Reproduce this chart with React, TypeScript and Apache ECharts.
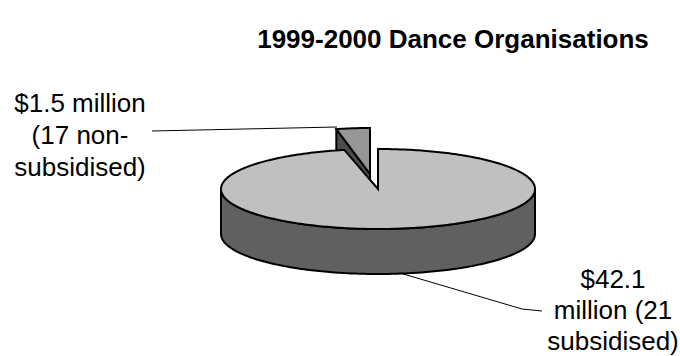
import React, { useEffect, useRef } from 'react';
import * as echarts from 'echarts';

const titleText = '1999-2000 Dance Organisations';
const categories = ['subsidised', 'non-subsidised'];
const revenueMillions = [42.1, 1.5];
const organisationCounts = [21, 17];
const labelTexts = ['$42.1\nmillion (21\nsubsidised)', '$1.5 million\n(17 non-\nsubsidised)'];

const topColors = ['#c0c0c0', '#969696'];
const sideColors = ['#606060', '#4d4d4d'];

const CX = 378;
const CY = 189;
const RX = 157;
const RY = 40;
const DEPTH = 45;
const EXPLODED = [false, true];
const EX_DX = -8;
const EX_DY = -15;
const EX_RY = 46;
const FONT = "'Liberation Sans', Arial, sans-serif";

export default function App() {
  const ref = useRef<HTMLDivElement>(null);
  useEffect(() => {
    document.body.style.margin = '0';
    const chart = echarts.init(ref.current!, null, { renderer: 'svg' });
    const total = revenueMillions.reduce((a, b) => a + b, 0);
    const option: any = {
      animation: false,
      backgroundColor: '#ffffff',
      title: {
        text: titleText,
        left: 448,
        top: 21,
        textAlign: 'center',
        textStyle: { fontSize: 26, fontWeight: 'bold', fontFamily: FONT, color: '#000' },
      },
      series: [
        {
          type: 'custom',
          coordinateSystem: 'none',
          data: revenueMillions.map((v, i) => ({ value: v, name: categories[i], count: organisationCounts[i] })),
          renderItem: (params: any, api: any) => {
            const i = params.dataIndex;
            let start = 0;
            for (let k = 0; k < i; k++) start += (revenueMillions[k] / total) * 360;
            const end = start + (api.value(0) / total) * 360;
            const ex = EXPLODED[i];
            const cx = CX + (ex ? EX_DX : 0);
            const cy = CY + (ex ? EX_DY : 0);
            const ry = ex ? EX_RY : RY;
            const pt = (deg: number, dy = 0) => {
              const r = (deg * Math.PI) / 180;
              return [cx + RX * Math.sin(r), cy - ry * Math.cos(r) + dy];
            };
            const arc = (a0: number, a1: number, dy = 0) => {
              const n = Math.max(2, Math.ceil(Math.abs(a1 - a0)));
              const pts: number[][] = [];
              for (let j = 0; j <= n; j++) pts.push(pt(a0 + ((a1 - a0) * j) / n, dy));
              return pts;
            };
            const base = ex ? 0 : 10;
            const children: any[] = [];
            const lw = 2;
            const s0 = Math.max(start, 90);
            const s1 = Math.min(end, 270);
            if (s1 > s0) {
              children.push({
                type: 'polygon',
                z2: base + 1,
                shape: { points: [...arc(s0, s1), ...arc(s1, s0, DEPTH)] },
                style: { fill: sideColors[i], stroke: '#000', lineWidth: lw, lineJoin: 'round' },
              });
            }
            if (Math.sin((start * Math.PI) / 180) < -1e-6) {
              children.push({
                type: 'polygon',
                z2: base + 1,
                shape: { points: [[cx, cy], pt(start), pt(start, DEPTH), [cx, cy + DEPTH]] },
                style: { fill: sideColors[i], stroke: '#000', lineWidth: lw, lineJoin: 'round' },
              });
            }
            if (Math.sin((end * Math.PI) / 180) > 1e-6) {
              children.push({
                type: 'polygon',
                z2: base + 1,
                shape: { points: [[cx, cy], pt(end), pt(end, DEPTH), [cx, cy + DEPTH]] },
                style: { fill: sideColors[i], stroke: '#000', lineWidth: lw, lineJoin: 'round' },
              });
            }
            children.push({
              type: 'polygon',
              z2: base + 2,
              shape: { points: [[cx, cy], ...arc(start, end)] },
              style: { fill: topColors[i], stroke: '#000', lineWidth: lw, lineJoin: 'miter' },
            });
            return { type: 'group', children };
          },
        },
      ],
      graphic: [
        {
          type: 'polyline',
          shape: { points: [[152, 131], [337, 127]] },
          style: { stroke: '#000', lineWidth: 1, fill: 'none' },
        },
        {
          type: 'polyline',
          shape: { points: [[400, 273], [522, 309], [542, 311]] },
          style: { stroke: '#000', lineWidth: 1, fill: 'none' },
        },
        {
          type: 'text',
          x: 80,
          y: 135,
          style: {
            text: labelTexts[1],
            fontSize: 26,
            fontFamily: FONT,
            fill: '#000',
            align: 'center',
            verticalAlign: 'middle',
            lineHeight: 32,
          },
        },
        {
          type: 'text',
          x: 613,
          y: 310,
          style: {
            text: labelTexts[0],
            fontSize: 26,
            fontFamily: FONT,
            fill: '#000',
            align: 'center',
            verticalAlign: 'middle',
            lineHeight: 31,
          },
        },
      ],
    };
    chart.setOption(option);
    return () => chart.dispose();
  }, []);
  return <div ref={ref} style={{ width: 680, height: 356 }} />;
}
